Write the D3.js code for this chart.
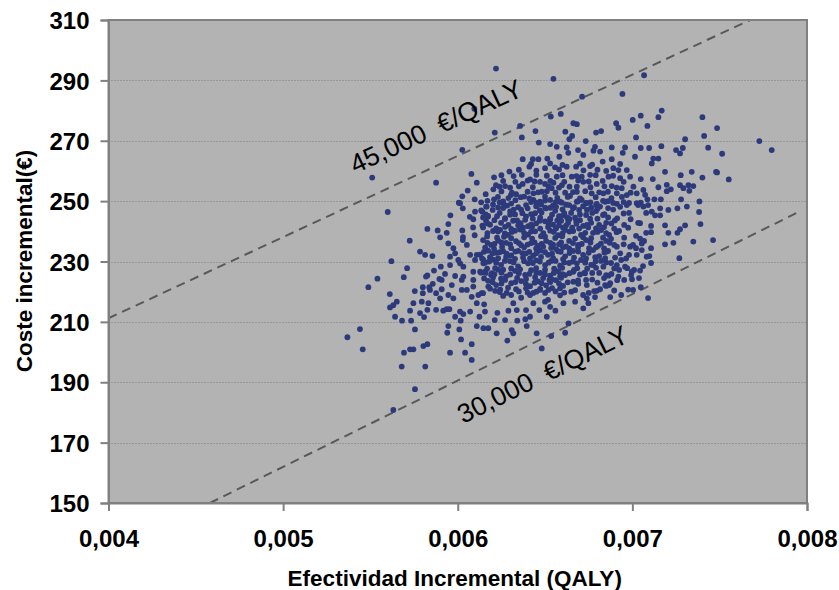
<!DOCTYPE html>
<html><head><meta charset="utf-8">
<script src="https://cdn.jsdelivr.net/npm/d3@7"></script>
<style>body{margin:0;background:#fff}svg{display:block}</style>
</head><body><svg id="c" width="839" height="590"></svg>
<script>
const xTicks = [0.004, 0.005, 0.006, 0.007, 0.008];
const yTicks = [150, 170, 190, 210, 230, 250, 270, 290, 310];
const xTitle = "Efectividad Incremental (QALY)";
const yTitle = "Coste incremental(€)";
const thresholdLabels = ["45,000  €/QALY", "30,000  €/QALY"];
const thresholdStart = [[0.004, 211.2], [0.004581, 150]];
const thresholdEnd = [[0.007674, 310], [0.007938, 246]];
const thresholdLabelAt = [[0.005413, 259.0], [0.006030, 176.2]];

const points = [
[0.005510,257.8],[0.005599,246.4],[0.005725,236.9],[0.005784,233.3],[0.005620,230.1],[0.005710,227.8],[0.005691,224.8],[0.005540,224.3],[0.005488,221.5],[0.005611,219.2],
[0.005754,220.2],[0.005813,232.2],[0.005855,231.8],[0.005612,214.8],[0.005631,215.5],[0.005651,216.7],[0.005641,211.7],[0.005681,210.4],[0.005733,210.4],[0.005727,213.7],
[0.005746,216.2],[0.005800,221.5],[0.005826,225.4],[0.005864,227.0],[0.005903,228.3],[0.005927,225.9],[0.005895,224.2],[0.005857,222.6],[0.005837,221.5],[0.005800,219.5],
[0.005794,216.7],[0.005784,212.9],[0.005807,211.6],[0.005826,214.0],[0.005832,216.2],[0.005876,214.0],[0.005876,219.5],[0.005899,217.8],[0.005908,220.8],[0.005946,218.9],
[0.005975,217.8],[0.005966,222.2],[0.005985,225.2],[0.005956,228.8],[0.006003,230.5],[0.005985,232.7],[0.005946,236.0],[0.006052,235.5],[0.006071,232.2],[0.006109,232.2],
[0.006147,230.5],[0.006032,228.3],[0.006089,226.6],[0.006128,226.6],[0.006156,226.6],[0.006023,223.9],[0.006052,220.6],[0.006089,221.7],[0.006080,218.3],[0.006109,216.2],
[0.006118,218.9],[0.006151,215.8],[0.006156,213.4],[0.006124,211.7],[0.006071,213.4],[0.006013,213.4],[0.006032,212.6],[0.005952,214.2],[0.005937,214.2],[0.005985,211.7],
[0.006017,210.4],[0.006109,208.6],[0.006147,207.9],[0.006175,207.9],[0.005946,208.6],[0.005940,206.4],[0.006009,207.5],[0.006019,204.2],[0.006080,202.6],[0.006042,199.8],
[0.006080,197.4],[0.005956,199.8],[0.005755,207.5],[0.005440,207.6],[0.005368,204.9],[0.005456,200.9],[0.005692,199.8],[0.005727,200.9],[0.005746,200.9],[0.005803,202.0],
[0.005826,202.6],[0.005679,195.2],[0.005814,195.2],[0.005755,187.7],[0.005631,180.8],[0.005917,213.7],[0.006223,206.2],[0.006284,203.8],[0.006318,206.2],[0.006341,210.4],
[0.006395,208.6],[0.006452,206.2],[0.006481,201.2],[0.006615,206.4],[0.006634,209.5],[0.006510,211.7],[0.006529,215.0],[0.006605,216.2],[0.006672,216.7],[0.006719,214.5],
[0.006739,217.8],[0.006786,218.2],[0.006873,218.2],[0.006414,211.7],[0.006318,216.2],[0.006271,210.6],[0.006309,207.3],[0.006535,205.3],[0.006559,213.7],[0.006467,213.9],
[0.006433,216.2],[0.006387,210.9],[0.006212,210.6],[0.006227,213.0],[0.006290,213.7],[0.006338,213.9],[0.006391,213.9],[0.006500,216.7],[0.006748,216.2],[0.006796,220.3],
[0.006739,222.2],[0.006844,222.2],[0.006873,222.8],[0.006863,225.3],[0.006920,225.0],[0.006958,228.3],[0.006911,228.8],[0.006834,228.3],[0.006997,226.6],[0.007025,232.2],
[0.006987,234.9],[0.006911,234.9],[0.006853,233.3],[0.006777,228.8],[0.006729,226.1],[0.006662,223.3],[0.006586,221.1],[0.006519,220.6],[0.006471,220.6],[0.006414,218.9],
[0.006525,223.9],[0.006586,225.2],[0.006662,226.6],[0.006682,229.4],
[0.007054,236.0],[0.007054,233.8],[0.007107,234.4],[0.007082,231.6],[0.007097,231.8],[0.007187,235.7],[0.007235,236.2],[0.007349,236.6],[0.007462,237.1],[0.007269,231.1],
[0.007044,227.0],[0.007048,221.5],
[0.007168,280.0],[0.007149,277.8],[0.007086,274.9],[0.007048,278.3],[0.007401,277.8],[0.007485,274.2],[0.007411,271.6],[0.007302,270.5],[0.007727,269.9],[0.007798,266.9],
[0.007434,267.7],[0.007514,265.7],[0.007289,267.6],[0.007273,265.8],[0.007250,266.9],[0.007166,268.2],[0.007096,267.6],[0.007048,267.6],[0.007120,264.1],[0.007149,264.1],
[0.007111,262.5],[0.007187,259.7],[0.007340,259.7],[0.007479,259.7],[0.007485,259.5],[0.007552,257.2],[0.007401,257.8],[0.007277,258.6],[0.007117,257.3],[0.007048,257.3],
[0.007063,253.7],[0.007073,252.1],[0.007149,254.6],[0.007197,255.4],[0.007220,253.9],[0.007197,253.3],[0.007273,255.3],[0.007292,254.3],[0.007321,255.3],[0.007349,255.0],
[0.007326,253.4],[0.007086,250.6],[0.007126,250.6],[0.007163,250.6],[0.007279,250.6],[0.007384,249.9],[0.007048,249.5],[0.007063,248.2],[0.007159,247.6],[0.007206,247.1],
[0.007258,247.6],[0.007312,248.2],[0.007111,246.5],[0.007130,245.3],[0.007159,245.3],[0.007382,246.4],[0.007044,242.7],[0.007187,242.0],[0.007302,242.0],[0.007390,242.4],
[0.007273,240.7],[0.007258,239.5],[0.007107,239.7],[0.007206,239.5],
[0.006219,293.9],[0.006548,290.5],[0.006712,284.6],[0.006943,285.5],[0.007067,291.7],[0.006095,280.6],[0.006533,278.0],[0.006590,278.9],[0.006357,274.9],[0.006212,272.7],
[0.006367,271.1],[0.006445,273.2],[0.006616,273.0],[0.006655,271.6],[0.006639,270.5],[0.006662,275.8],[0.006682,275.5],[0.006733,269.9],[0.006792,272.7],[0.006821,273.2],
[0.006907,275.8],[0.006920,274.3],[0.007002,276.9],[0.007021,271.1],[0.006464,269.4],[0.006529,268.9],[0.006567,268.0],[0.006624,267.8],[0.006689,266.9],[0.006719,265.3],
[0.006777,266.7],[0.006786,268.0],[0.006815,266.4],[0.006882,267.8],[0.006945,266.0],[0.006958,267.8],[0.007015,264.7],[0.006372,263.9],[0.006430,263.9],[0.006462,263.9],
[0.006513,264.1],[0.006582,264.7],[0.006633,266.0],[0.006882,263.9],[0.006410,261.4],[0.006500,260.9],[0.006529,262.5],[0.006557,261.2],[0.006624,261.4],[0.006678,261.4],
[0.006758,261.6],[0.006830,263.1],[0.006891,260.9],[0.006920,260.3],[0.006968,260.3],[0.006296,259.8],[0.006208,257.9],[0.006367,258.7],[0.006414,257.2],[0.006567,258.1],
[0.006653,258.1],[0.006710,258.1],[0.006758,258.7],[0.006863,258.1],[0.006930,257.6],[0.006987,258.1],[0.006219,255.3],[0.006271,255.0],[0.006372,255.7],[0.006471,256.4],
[0.006500,255.7],[0.006548,256.1],[0.006596,255.3],[0.006682,254.8],[0.006719,256.4],[0.006796,255.7],[0.006882,255.0],[0.006939,254.3],[0.007006,254.8],[0.006204,253.9],
[0.006304,252.0],[0.006334,252.3],[0.006380,251.5],[0.006433,252.6],[0.006481,253.1],[0.006538,254.3],[0.006615,252.8],[0.006643,251.7],[0.006682,253.1],[0.006767,252.6],
[0.006834,252.6],[0.006911,252.6],[0.006968,252.0],[0.007025,252.6],[0.006208,250.6],[0.006261,249.3],[0.006433,250.4],[0.006471,249.8],[0.006529,250.4],[0.006596,249.5],
[0.006682,249.8],[0.006739,249.3],[0.006796,249.1],[0.006844,249.8],[0.006911,249.1],[0.006968,248.7],[0.007025,249.3],
[0.006026,267.0],[0.005876,256.1],[0.006078,259.0],[0.006109,256.1],[0.006057,253.5],[0.006026,251.6],[0.006006,249.5],[0.006029,247.6],[0.006097,250.6],[0.006160,252.3],
[0.005958,245.3],[0.005946,242.4],[0.005826,240.8],[0.005885,240.3],[0.005937,239.5],[0.006026,240.3],[0.006088,241.3],[0.006097,238.7],[0.006069,244.8],[0.006099,246.5],
[0.006141,246.5],[0.006166,248.2],[0.006172,244.8],[0.006141,241.9],[0.005899,238.0],[0.006030,238.1],[0.005818,225.0],[0.005975,234.4],[0.005956,231.6],[0.006013,249.3],
[0.006089,244.0],[0.006029,237.1],[0.006099,230.5],[0.006147,229.4],[0.006013,229.4],[0.006032,225.0],[0.006023,220.6],[0.006089,223.9],[0.006137,219.5],[0.005908,223.9],
[0.005841,220.6],[0.006175,221.7],[0.006195,226.1],
[0.006134,249.6],[0.006202,248.9],[0.006260,249.9],[0.006306,249.2],[0.006391,248.7],[0.006420,249.7],[0.006477,249.0],[0.006545,248.5],[0.006586,249.8],[0.006620,248.8],
[0.006134,246.9],[0.006174,245.1],[0.006300,246.6],[0.006328,245.6],[0.006363,247.2],[0.006443,246.0],[0.006500,247.8],[0.006558,246.8],[0.006603,245.3],
[0.006162,243.4],[0.006185,242.2],[0.006248,242.8],[0.006317,243.5],[0.006346,242.0],[0.006386,243.8],[0.006403,241.7],[0.006449,242.6],[0.006500,243.3],[0.006546,242.2],
[0.006592,243.5],[0.006620,241.9],
[0.006202,240.1],[0.006243,240.5],[0.006288,238.8],[0.006328,240.2],[0.006357,240.6],[0.006403,238.9],[0.006443,240.0],[0.006477,238.4],[0.006529,240.2],[0.006575,238.7],
[0.006615,240.4],
[0.006145,237.1],[0.006191,235.5],[0.006231,236.9],[0.006277,236.2],[0.006334,236.7],[0.006363,235.4],[0.006420,236.1],[0.006460,235.2],[0.006506,236.8],[0.006546,235.6],
[0.006592,236.3],[0.006620,235.0],
[0.006128,232.3],[0.006174,233.6],[0.006220,232.9],[0.006260,233.4],[0.006306,232.0],[0.006346,233.5],[0.006391,232.7],[0.006432,231.9],[0.006472,233.6],[0.006517,232.2],
[0.006575,233.4],[0.006615,231.7],
[0.006157,229.6],[0.006202,230.6],[0.006248,228.9],[0.006300,230.1],[0.006346,228.4],[0.006403,229.4],[0.006449,230.4],[0.006500,228.8],[0.006535,230.2],[0.006586,228.6],
[0.006134,226.3],[0.006191,225.5],[0.006231,227.3],[0.006277,225.1],[0.006328,226.9],[0.006386,225.6],[0.006420,227.1],[0.006472,226.2],[0.006529,225.3],[0.006575,226.8],
[0.006615,225.5],
[0.006174,223.6],[0.006220,222.2],[0.006271,223.9],[0.006306,222.8],[0.006363,223.5],[0.006414,221.8],[0.006460,223.4],[0.006506,222.1],[0.006563,223.8],[0.006603,221.9],
[0.006145,219.5],[0.006214,220.3],[0.006260,218.6],[0.006306,218.9],[0.006363,218.0],[0.006432,219.6],[0.006517,217.3],[0.006586,218.8],
[0.006162,248.2],[0.006231,247.9],[0.006283,248.5],[0.006346,248.0],[0.006449,248.3],[0.006506,247.6],[0.006563,248.1],
[0.006145,244.6],[0.006225,245.0],[0.006271,244.4],[0.006391,244.9],[0.006472,244.5],[0.006529,244.2],[0.006580,245.0],[0.006626,244.6],
[0.006145,241.3],[0.006220,241.0],[0.006271,241.5],[0.006306,240.8],[0.006374,241.2],[0.006426,241.6],[0.006472,240.9],[0.006517,241.4],[0.006563,241.0],[0.006603,241.2],
[0.006168,238.3],[0.006225,237.9],[0.006265,238.2],[0.006306,237.7],[0.006380,238.0],[0.006426,237.6],[0.006500,238.2],[0.006558,237.8],[0.006598,238.4],
[0.006157,234.6],[0.006208,234.2],[0.006254,234.8],[0.006306,234.4],[0.006380,234.7],[0.006449,234.3],[0.006489,234.9],[0.006535,234.5],[0.006563,234.1],[0.006603,234.7],
[0.006139,231.0],[0.006185,231.4],[0.006231,231.1],[0.006277,231.5],[0.006328,230.9],[0.006374,231.3],[0.006414,231.0],[0.006477,231.5],[0.006546,231.1],[0.006603,230.8],
[0.006168,227.6],[0.006214,227.8],[0.006260,227.3],[0.006306,227.7],[0.006357,227.4],[0.006449,227.8],[0.006500,227.3],[0.006552,227.6],[0.006598,227.9],
[0.006151,224.4],[0.006202,224.7],[0.006248,224.3],[0.006340,224.6],[0.006391,224.2],[0.006443,224.8],[0.006489,224.5],[0.006540,224.1],[0.006592,224.6],
[0.006185,221.0],[0.006243,220.7],[0.006288,221.3],[0.006334,220.8],[0.006391,221.1],[0.006472,220.9],[0.006540,221.2],
[0.006638,248.7],[0.006689,250.0],[0.006735,249.4],[0.006792,248.7],[0.006832,250.1],[0.006890,249.4],[0.006981,249.4],[0.007033,248.7],[0.007090,248.7],
[0.006649,246.1],[0.006695,247.1],[0.006735,245.4],[0.006792,246.7],[0.006832,245.4],[0.006981,246.1],[0.007079,246.1],
[0.006632,242.8],[0.006678,243.4],[0.006718,241.8],[0.006764,242.8],[0.006810,242.1],[0.006850,242.8],[0.006953,242.1],[0.007033,242.8],[0.007107,241.8],
[0.006661,240.1],[0.006706,238.8],[0.006775,239.5],[0.006821,240.4],[0.006867,238.8],[0.006924,240.1],[0.007021,238.5],[0.007079,239.5],
[0.006638,236.8],[0.006689,235.5],[0.006735,237.1],[0.006804,235.2],[0.006850,236.8],[0.006896,235.5],[0.007004,235.5],[0.007067,236.8],
[0.006661,233.5],[0.006718,232.2],[0.006775,233.8],[0.006810,231.8],[0.006861,233.5],[0.006981,232.2],
[0.006638,229.5],[0.006706,230.5],[0.006764,228.9],[0.006821,230.2],[0.006878,229.5],[0.006936,230.5],[0.007010,227.2],[0.007061,228.5],[0.007107,229.5],
[0.006666,227.2],[0.006724,226.2],[0.006810,226.2],[0.006850,225.5],[0.006924,227.2],[0.006993,225.5],
[0.006735,223.9],[0.006838,224.5],[0.006867,222.2],[0.006953,223.9],[0.007038,224.5],
[0.006718,218.9],[0.006781,220.2],[0.006850,221.9],[0.006936,218.9],[0.007004,220.6],[0.007090,217.9],
[0.006666,248.0],[0.006718,248.3],[0.006764,247.8],[0.006815,248.2],[0.006861,247.7],[0.006930,248.1],
[0.006632,244.0],[0.006672,244.5],[0.006758,244.2],[0.006861,244.6],[0.006913,244.3],
[0.006655,241.2],[0.006695,240.9],[0.006747,241.3],[0.006792,241.0],[0.006838,241.4],[0.006896,240.9],[0.006976,241.2],
[0.006672,237.6],[0.006718,238.0],[0.006764,237.7],[0.006832,237.9],[0.006878,237.5],[0.006953,237.9],[0.007044,237.6],
[0.006638,234.3],[0.006689,234.6],[0.006752,234.4],[0.006792,234.7],[0.006838,234.3],[0.007021,234.4],
[0.006666,231.3],[0.006735,231.0],[0.006787,231.4],[0.006844,231.1],[0.006901,231.3],[0.006964,231.0],
[0.006684,227.8],[0.006741,227.6],[0.006792,227.9],[0.006896,227.7],[0.006970,227.8],
[0.006689,223.7],[0.006770,224.0],[0.006913,223.8],[0.006998,224.1],
[0.006672,220.5],[0.006815,220.8],[0.006896,220.4],[0.006976,220.7],
[0.006170,250.1],[0.006240,249.6],[0.006330,250.3],[0.006450,249.5],[0.006500,250.2],[0.006560,249.7],[0.006710,250.4],[0.006760,249.6],[0.006860,250.0],[0.006950,249.7],
[0.006200,247.1],[0.006260,247.7],[0.006320,247.2],[0.006400,247.6],[0.006470,247.0],[0.006530,247.8],[0.006600,247.3],[0.006660,247.6],[0.006740,247.1],[0.006800,247.5],[0.006890,247.2],
[0.006160,245.6],[0.006240,246.1],[0.006300,245.5],[0.006370,246.0],[0.006420,245.7],[0.006480,246.2],[0.006540,245.5],[0.006610,246.0],[0.006700,245.6],[0.006770,246.1],[0.006840,245.7],[0.006950,245.9],
[0.006210,243.7],[0.006270,244.1],[0.006340,243.6],[0.006430,244.2],[0.006470,243.5],[0.006530,244.0],[0.006570,243.6],[0.006640,244.1],[0.006700,243.7],[0.006800,244.2],[0.006900,243.6],[0.006990,244.0],
[0.006170,242.6],[0.006290,242.1],[0.006360,242.7],[0.006420,242.2],[0.006520,242.6],[0.006580,242.0],[0.006680,242.5],[0.006740,242.1],[0.006880,242.6],
[0.006170,239.4],[0.006230,239.9],[0.006270,239.3],[0.006310,239.8],[0.006380,239.5],[0.006420,239.9],[0.006490,239.4],[0.006550,239.8],[0.006600,239.3],[0.006640,239.9],[0.006730,239.5],[0.006800,239.8],[0.006850,239.4],[0.006910,239.7],
[0.006170,236.2],[0.006210,235.8],[0.006250,236.3],[0.006300,235.7],[0.006350,236.1],[0.006400,235.6],[0.006440,236.3],[0.006480,235.8],[0.006530,236.2],[0.006580,235.7],[0.006660,236.1],[0.006710,235.8],[0.006760,236.3],[0.006820,235.9],[0.006870,236.2],[0.006950,235.7],
[0.006150,233.2],[0.006200,232.7],[0.006240,233.1],[0.006280,232.6],[0.006330,233.3],[0.006370,232.8],[0.006410,233.2],[0.006450,232.7],[0.006500,233.1],[0.006540,232.6],[0.006590,233.2],[0.006640,232.8],[0.006690,233.3],[0.006750,232.9],[0.006840,233.0],[0.006930,232.7],
[0.006180,230.0],[0.006220,229.6],[0.006270,230.2],[0.006320,229.7],[0.006380,230.1],[0.006430,229.5],[0.006470,230.0],[0.006520,229.6],[0.006560,230.2],[0.006610,229.7],[0.006660,230.0],[0.006730,229.6],[0.006790,230.1],[0.006850,229.7],
[0.006160,226.2],[0.006210,225.8],[0.006250,226.3],[0.006300,225.7],[0.006350,226.1],[0.006410,225.9],[0.006450,226.3],[0.006500,225.7],[0.006550,226.2],[0.006600,225.8],[0.006640,226.1],[0.006700,225.7],[0.006770,226.2],[0.006880,225.9],
[0.006200,223.1],[0.006250,222.7],[0.006330,223.2],[0.006390,222.6],[0.006440,223.0],[0.006480,222.8],[0.006530,223.2],[0.006580,222.7],[0.006630,223.1],[0.006690,222.6],[0.006800,223.0],
[0.006240,219.9],[0.006280,219.6],[0.006350,220.1],[0.006400,219.7],[0.006450,220.0],[0.006500,219.6],[0.006560,220.1],[0.006610,219.7],[0.006650,220.0],[0.006750,219.6],
[0.006230,251.4],[0.006290,251.0],[0.006360,251.3],[0.006410,250.9],[0.006500,251.5],[0.006570,251.1],[0.006630,251.4],[0.006700,250.9],[0.006790,251.3],[0.006880,251.0],[0.006940,251.4],
[0.006250,253.2],[0.006310,252.8],[0.006400,253.1],[0.006460,252.9],[0.006510,253.3],[0.006560,252.8],[0.006660,253.0],[0.006730,253.3],[0.006810,252.9],[0.006860,253.1],[0.006990,252.8],
[0.006240,254.8],[0.006300,254.5],[0.006350,254.9],[0.006430,254.6],[0.006520,254.9],[0.006580,254.5],[0.006640,254.8],[0.006760,254.6],[0.006840,254.9],[0.006910,254.5],
[0.006260,256.7],[0.006330,256.4],[0.006400,256.8],[0.006440,256.5],[0.006530,256.7],[0.006610,256.4],[0.006690,256.8],[0.006750,256.5],[0.006830,256.7],[0.006950,256.4],
[0.006250,258.6],[0.006320,258.3],[0.006450,258.7],[0.006510,258.4],[0.006600,258.6],[0.006680,258.3],[0.006790,258.6],[0.006890,258.4],
[0.006350,260.4],[0.006450,260.1],[0.006580,260.5],[0.006720,260.2],[0.006800,260.4],[0.006850,260.0],
[0.006420,262.3],[0.006600,262.0],[0.006700,262.4],[0.006770,262.1],[0.006930,262.3]
];

const svg = d3.select("#c");
const plotL = 108.5, plotR = 807, plotT = 20, plotB = 503;
const x = d3.scaleLinear().domain([xTicks[0], xTicks[xTicks.length - 1]]).range([plotL, plotR]);
const y = d3.scaleLinear().domain([yTicks[0], yTicks[yTicks.length - 1]]).range([plotB, plotT]);
const FONT = "'Liberation Sans', Arial, sans-serif";

svg.append("rect").attr("x", plotL).attr("y", plotT)
  .attr("width", plotR - plotL).attr("height", plotB - plotT).attr("fill", "#b3b3b3");

svg.append("g").selectAll("line").data(yTicks.slice(1, -1)).join("line")
  .attr("x1", plotL).attr("x2", plotR)
  .attr("y1", d => Math.round(y(d)) + 0.5).attr("y2", d => Math.round(y(d)) + 0.5)
  .attr("stroke", "#7a7a7a").attr("stroke-width", 1).attr("stroke-dasharray", "1,2");

svg.append("clipPath").attr("id", "pc").append("rect")
  .attr("x", plotL).attr("y", plotT).attr("width", plotR - plotL).attr("height", plotB - plotT);
svg.append("g").attr("clip-path", "url(#pc)").selectAll("line").data(thresholdStart).join("line")
  .attr("x1", d => x(d[0])).attr("y1", d => y(d[1]))
  .attr("x2", (d, i) => x(thresholdEnd[i][0])).attr("y2", (d, i) => y(thresholdEnd[i][1]))
  .attr("stroke", "#595959").attr("stroke-width", 2).attr("stroke-dasharray", "9,6");

svg.append("g").selectAll("circle").data(points).join("circle")
  .attr("cx", d => x(d[0])).attr("cy", d => y(d[1])).attr("r", 2.9)
  .attr("fill", "#2c3a7c");

thresholdLabels.forEach((t, i) => {
  const a = thresholdStart[i], b = thresholdEnd[i];
  const ang = Math.atan2(y(b[1]) - y(a[1]), x(b[0]) - x(a[0])) * 180 / Math.PI;
  const p = thresholdLabelAt[i];
  svg.append("text")
    .attr("transform", `translate(${x(p[0])},${y(p[1])}) rotate(${ang})`)
    .attr("font-family", FONT).attr("font-size", 26.5).attr("fill", "#000")
    .attr("xml:space", "preserve").style("white-space", "pre")
    .text(t);
});

svg.append("rect").attr("x", plotL).attr("y", plotT)
  .attr("width", plotR - plotL).attr("height", plotB - plotT)
  .attr("fill", "none").attr("stroke", "#808080").attr("stroke-width", 2);

const yAxis = d3.axisLeft(y).tickValues(yTicks).tickSize(8).tickPadding(11).tickFormat(d3.format("d"));
const gy = svg.append("g").attr("transform", `translate(${plotL},0)`).call(yAxis);
const xAxis = d3.axisBottom(x).tickValues(xTicks).tickSize(8).tickPadding(19)
  .tickFormat(d => d3.format(".3f")(d).replace(".", ","));
const gx = svg.append("g").attr("transform", `translate(0,${plotB})`).call(xAxis);
[gx, gy].forEach(g => {
  g.select(".domain").attr("stroke", "#808080").attr("stroke-width", 2);
  g.selectAll(".tick line").attr("stroke", "#808080").attr("stroke-width", 2);
  g.selectAll(".tick text").attr("font-family", FONT).attr("font-size", 24)
    .attr("font-weight", "bold").attr("fill", "#000");
});
gy.selectAll(".tick text").attr("dy", "0.36em");

svg.append("text").attr("x", (plotL + plotR) / 2 - 3).attr("y", 586)
  .attr("text-anchor", "middle").attr("font-family", FONT).attr("font-weight", "bold")
  .attr("font-size", 22.5).attr("fill", "#000").text(xTitle);
svg.append("text").attr("transform", "translate(32,261) rotate(-90)")
  .attr("text-anchor", "middle").attr("font-family", FONT).attr("font-weight", "bold")
  .attr("font-size", 22.5).attr("fill", "#000").text(yTitle);
</script></body></html>
